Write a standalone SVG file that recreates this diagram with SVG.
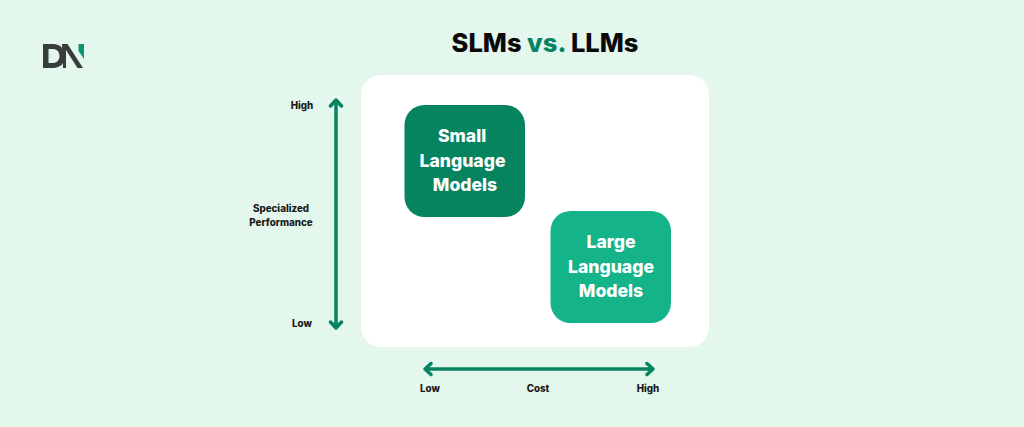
<svg xmlns="http://www.w3.org/2000/svg" width="1024" height="427" viewBox="0 0 1024 427">
<style>
.t{font-family:"Inter","Liberation Sans",sans-serif;font-weight:800;text-anchor:middle}
.s{font-size:9.800px;fill:#1a1a1a}
.n{font-size:17.600px;fill:#fff}
.a{fill:none;stroke:#068461;stroke-width:3.500;stroke-linecap:round;stroke-linejoin:round}
</style>
<rect width="1024" height="427" fill="#e3f7ed"/>
<g id="logo">
<path fill="#383d3b" fill-rule="evenodd" d="M43 44h10c7.500 0 12 5 12 12s-4.500 12-12 12H43zM48.500 49v14h4.500c4 0 6.500-3 6.500-7s-2.500-7-6.500-7z"/>
<path fill="#383d3b" d="M62 44h5.500L83 68h-5.500L66 50v18h-3z"/>
<path fill="#0a9470" d="M78.500 44H84v15l-5.500-8z"/>
</g>
<g id="title"><text class="t" x="545" y="52" font-size="25.500" fill="#0a0a0a">SLMs <tspan fill="#068461">vs.</tspan> LLMs</text></g>
<g id="panel"><rect x="361" y="75" width="348" height="272" rx="20" fill="#fff"/></g>
<g id="small-language-models">
<rect x="404.500" y="105" width="120.500" height="112" rx="20" fill="#06835f"/>
<text class="t n" x="462" y="142">Small</text>
<text class="t n" x="462.500" y="167">Language</text>
<text class="t n" x="465" y="191">Models</text>
</g>
<g id="large-language-models">
<rect x="550.500" y="211" width="120.500" height="112" rx="20" fill="#14b389"/>
<text class="t n" x="611" y="248">Large</text>
<text class="t n" x="611" y="273">Language</text>
<text class="t n" x="611" y="297">Models</text>
</g>
<g id="connectors">
<path class="a" d="M336 100V328M330.500 106L336 100L341.500 106M330.500 322L336 328L341.500 322"/>
<path class="a" d="M425 369H653M431 363.500L425 369L431 374.500M647 363.500L653 369L647 374.500"/>
</g>
<g id="labels">
<text class="t s" x="302" y="109">High</text>
<text class="t s" x="281" y="212">Specialized</text>
<text class="t s" x="281" y="226">Performance</text>
<text class="t s" x="302" y="327">Low</text>
<text class="t s" x="430" y="392">Low</text>
<text class="t s" x="538" y="392">Cost</text>
<text class="t s" x="648" y="392">High</text>
</g>
</svg>
